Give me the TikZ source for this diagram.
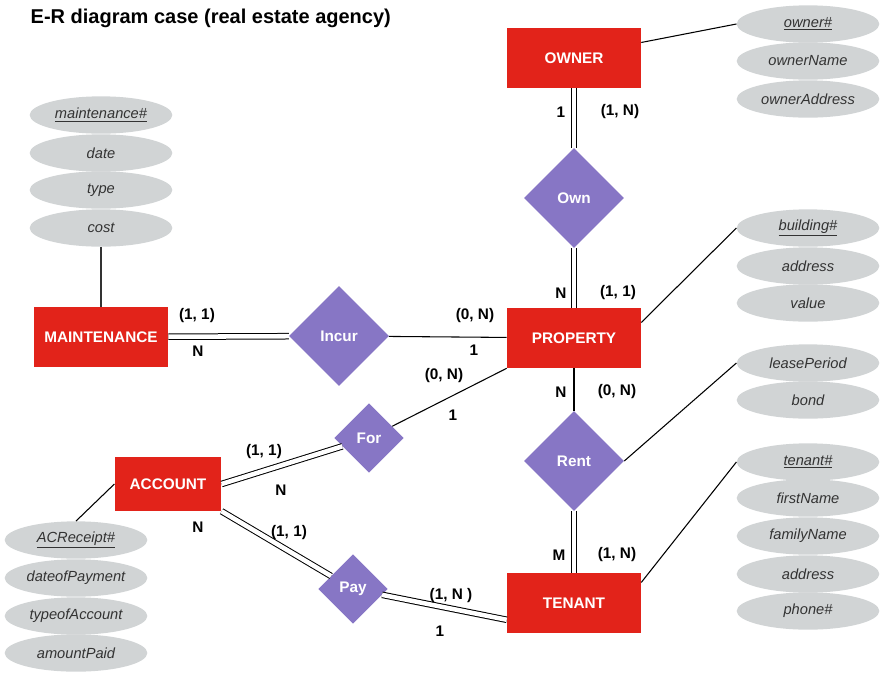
\documentclass[tikz,border=0pt]{standalone}
\usepackage{fontspec}
\setmainfont{Liberation Sans}
\usepackage{xcolor}
\usetikzlibrary{shapes.geometric}

\definecolor{entred}{HTML}{E2231A}
\definecolor{relpurple}{HTML}{8776C5}
\definecolor{attgray}{HTML}{D1D4D5}
\definecolor{atttext}{HTML}{333333}

\tikzset{
  entity/.style={fill=entred, text=white, minimum width=100.5pt, minimum height=45pt,
    inner sep=0pt, font=\fontsize{11.5}{13}\selectfont\bfseries},
  relation/.style={diamond, fill=relpurple, text=white, minimum width=75pt,
    minimum height=75pt, inner sep=0pt, font=\fontsize{11.5}{13}\selectfont\bfseries},
  smallrel/.style={relation, minimum width=52pt, minimum height=52pt},
  attribute/.style={ellipse, fill=attgray, text=atttext, minimum width=107pt,
    minimum height=28pt, inner sep=0pt, font=\fontsize{11}{13}\selectfont\itshape},
  card/.style={font=\fontsize{11.5}{13}\selectfont\bfseries},
  link/.style={line width=0.8pt},
  dlink/.style={double, double distance=3.4pt, line width=0.75pt},
}

\begin{document}
\begin{tikzpicture}[x=0.75pt, y=-0.75pt]
    \useasboundingbox (0,0) rectangle (886,676);

    % Title
    \node[anchor=west, font=\fontsize{15}{17}\selectfont\bfseries] (title) at (26,18)
        {E-R diagram case (real estate agency)};

    % Entities
    \node[entity] (owner) at (574,58) {OWNER};
    \node[entity] (maint) at (101,337) {MAINTENANCE};
    \node[entity] (property) at (574,338) {PROPERTY};
    \node[entity, minimum width=80pt, minimum height=40.5pt] (account) at (168,484) {ACCOUNT};
    \node[entity] (tenant) at (574,603) {TENANT};

    % Relationships
    \node[relation] (own) at (574,198) {Own};
    \node[relation] (incur) at (339,336) {Incur};
    \node[relation] (rent) at (574,461) {Rent};
    \node[smallrel] (for) at (369,438) {For};
    \node[smallrel] (pay) at (353,589) {Pay};

    % Attributes
    \foreach \n/\t/\y in {ownerid/{\underline{owner\#}}/24, ownername/ownerName/61,
        owneraddr/ownerAddress/99}
        \node[attribute] (\n) at (808,\y) {\t};
    \foreach \n/\t/\y in {maintid/{\underline{maintenance\#}}/115, maintdate/date/153,
        mainttype/type/190, maintcost/cost/228}
        \node[attribute] (\n) at (101,\y) {\t};
    \foreach \n/\t/\y in {buildid/{\underline{building\#}}/228, buildaddr/address/266,
        buildvalue/value/303}
        \node[attribute] (\n) at (808,\y) {\t};
    \foreach \n/\t/\y in {lease/leasePeriod/363, bond/bond/400}
        \node[attribute] (\n) at (808,\y) {\t};
    \foreach \n/\t/\y in {tenantid/{\underline{tenant\#}}/462, tenantfirst/firstName/498,
        tenantfamily/familyName/536, tenantaddr/address/574, tenantphone/phone\#/611}
        \node[attribute] (\n) at (808,\y) {\t};
    \foreach \n/\t/\y in {acid/{\underline{ACReceipt\#}}/540, acdate/dateofPayment/578,
        actype/typeofAccount/616, acamount/amountPaid/653}
        \node[attribute] (\n) at (76,\y) {\t};

    % Attribute links
    \draw[link] (owner.13) -- (ownerid.west);
    \draw[link, atttext] (maintcost.south) -- (maint.north);
    \draw[link] (property.13) -- (buildid.west);
    \draw[link] (rent.east) -- (lease.west);
    \draw[link] (tenant.17) -- (tenantid.west);
    \draw[link] (account.west) -- (acid.north);

    % Relationship links
    \draw[dlink] (owner) -- (own);
    \draw[dlink] (own) -- (property);
    \draw[dlink] (maint) -- (incur);
    \draw[link] (incur) -- (property);
    \draw[link] (property.south west) -- (for);
    \draw[dlink] (account.east) -- (for);
    \draw[link] (property) -- (rent);
    \draw[dlink] (rent) -- (tenant);
    \draw[dlink] (account.south east) -- (pay);
    \draw[dlink] (pay) -- (tenant.194);

    % Cardinalities
    \node[card] (c1) at (561,112) {1};
    \node[card] (c2) at (620,112) {(1, N)};
    \node[card] (c3) at (561,293) {N};
    \node[card] (c4) at (618,293) {(1, 1)};
    \node[card] (c5) at (197,316) {(1, 1)};
    \node[card] (c6) at (198,351) {N};
    \node[card] (c7) at (475,316) {(0, N)};
    \node[card] (c8) at (474,350) {1};
    \node[card] (c9) at (444,376) {(0, N)};
    \node[card] (c10) at (453,415) {1};
    \node[card] (c11) at (561,392) {N};
    \node[card] (c12) at (617,392) {(0, N)};
    \node[card] (c13) at (264,452) {(1, 1)};
    \node[card] (c14) at (281,490) {N};
    \node[card] (c15) at (198,527) {N};
    \node[card] (c16) at (289,533) {(1, 1)};
    \node[card] (c17) at (559,555) {M};
    \node[card] (c18) at (617,555) {(1, N)};
    \node[card] (c19) at (451,596) {(1, N )};
    \node[card] (c20) at (440,631) {1};
\end{tikzpicture}
\end{document}
